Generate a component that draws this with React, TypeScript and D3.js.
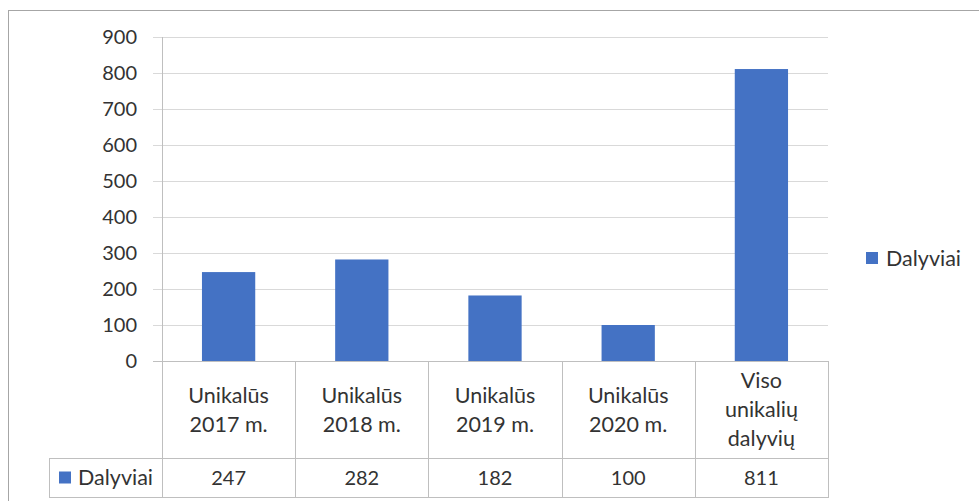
import React, { useEffect, useRef } from 'react'
import * as d3 from 'd3'

// chart data
const categories = [
  ['Unikalūs', '2017 m.'],
  ['Unikalūs', '2018 m.'],
  ['Unikalūs', '2019 m.'],
  ['Unikalūs', '2020 m.'],
  ['Viso', 'unikalių', 'dalyvių']
]
const seriesName = 'Dalyviai'
const values = [247, 282, 182, 100, 811]
const yTicks = [0, 100, 200, 300, 400, 500, 600, 700, 800, 900]

const W = 979
const H = 501
const FONT = 'Lato, "Open Sans", sans-serif'
const BLUE = '#4472C4'
const TEXT = '#333333'

export default function App () {
  const ref = useRef<SVGSVGElement>(null)

  useEffect(() => {
    const svg = d3.select(ref.current)
    svg.selectAll('*').remove()

    const plot = { left: 162, right: 828, top: 37, bottom: 361 }
    const tableMid = 458
    const tableBottom = 497
    const keyLeft = 49

    const keys = categories.map((c, i) => String(i))

    const x = d3.scaleBand()
      .domain(keys)
      .range([plot.left, plot.right])

    const y = d3.scaleLinear()
      .domain([0, 900])
      .range([plot.bottom, plot.top])

    // outer frame
    svg.append('rect')
      .attr('x', 8.5).attr('y', 10.5)
      .attr('width', W).attr('height', H)
      .attr('fill', 'none')
      .attr('stroke', '#a6a6a6')

    // gridlines + ticks
    svg.append('g')
      .selectAll('line')
      .data(yTicks)
      .enter()
      .append('line')
      .attr('x1', plot.left - 9)
      .attr('x2', plot.right)
      .attr('y1', (d) => Math.round(y(d)) + 0.5)
      .attr('y2', (d) => Math.round(y(d)) + 0.5)
      .attr('stroke', (d) => d === 0 ? '#bfbfbf' : '#d9d9d9')

    // tick labels
    svg.append('g')
      .selectAll('text')
      .data(yTicks)
      .enter()
      .append('text')
      .attr('x', 137)
      .attr('y', (d) => y(d))
      .attr('dy', '0.35em')
      .attr('text-anchor', 'end')
      .attr('font-family', FONT)
      .attr('font-size', 20)
      .attr('fill', TEXT)
      .text((d) => d)

    // bars
    const barW = x.bandwidth() * 0.4
    svg.append('g')
      .selectAll('rect')
      .data(values)
      .enter()
      .append('rect')
      .attr('x', (d, i) => x(keys[i])! + (x.bandwidth() - barW) / 2)
      .attr('y', (d) => y(d))
      .attr('width', barW)
      .attr('height', (d) => y(0) - y(d))
      .attr('fill', BLUE)

    // data table lines
    const tbl = svg.append('g').attr('stroke', '#bfbfbf').attr('fill', 'none')
    tbl.append('line')
      .attr('x1', plot.left + 0.5).attr('x2', plot.left + 0.5)
      .attr('y1', plot.top).attr('y2', tableBottom)
    keys.forEach((k) => {
      const xe = Math.round(x(k)! + x.bandwidth()) + 0.5
      tbl.append('line')
        .attr('x1', xe).attr('x2', xe)
        .attr('y1', plot.bottom).attr('y2', tableBottom)
    })
    tbl.append('line')
      .attr('x1', keyLeft + 0.5).attr('x2', keyLeft + 0.5)
      .attr('y1', tableMid).attr('y2', tableBottom)
    tbl.append('line')
      .attr('x1', keyLeft).attr('x2', plot.right + 1)
      .attr('y1', tableMid + 0.5).attr('y2', tableMid + 0.5)
    tbl.append('line')
      .attr('x1', keyLeft).attr('x2', plot.right + 1)
      .attr('y1', tableBottom + 0.5).attr('y2', tableBottom + 0.5)

    // category headers in table
    const lineH = 29
    const headMid = (plot.bottom + tableMid) / 2
    categories.forEach((lines, i) => {
      const cx = x(keys[i])! + x.bandwidth() / 2
      const t = svg.append('text')
        .attr('text-anchor', 'middle')
        .attr('font-family', FONT)
        .attr('font-size', 21.5)
        .attr('fill', TEXT)
      lines.forEach((ln, j) => {
        t.append('tspan')
          .attr('x', cx)
          .attr('y', headMid + (j - (lines.length - 1) / 2) * lineH)
          .attr('dy', '0.35em')
          .text(ln)
      })
    })

    // value row
    const rowMid = (tableMid + tableBottom) / 2
    svg.append('g')
      .selectAll('text')
      .data(values)
      .enter()
      .append('text')
      .attr('x', (d, i) => x(keys[i])! + x.bandwidth() / 2)
      .attr('y', rowMid)
      .attr('dy', '0.35em')
      .attr('text-anchor', 'middle')
      .attr('font-family', FONT)
      .attr('font-size', 20)
      .attr('fill', TEXT)
      .text((d) => d)

    // legend key inside table
    svg.append('rect')
      .attr('x', 59).attr('y', rowMid - 6)
      .attr('width', 12).attr('height', 12)
      .attr('fill', BLUE)
    svg.append('text')
      .attr('x', 78).attr('y', rowMid)
      .attr('dy', '0.35em')
      .attr('font-family', FONT)
      .attr('font-size', 21.5)
      .attr('fill', TEXT)
      .text(seriesName)

    // legend on the right
    svg.append('rect')
      .attr('x', 866).attr('y', 252)
      .attr('width', 12).attr('height', 12)
      .attr('fill', BLUE)
    svg.append('text')
      .attr('x', 886).attr('y', 258)
      .attr('dy', '0.35em')
      .attr('font-family', FONT)
      .attr('font-size', 21.5)
      .attr('fill', TEXT)
      .text(seriesName)
  }, [])

  return (
    <svg
      ref={ref}
      width={W}
      height={H}
      style={{ position: 'absolute', left: 0, top: 0, background: '#fff' }}
    />
  )
}
